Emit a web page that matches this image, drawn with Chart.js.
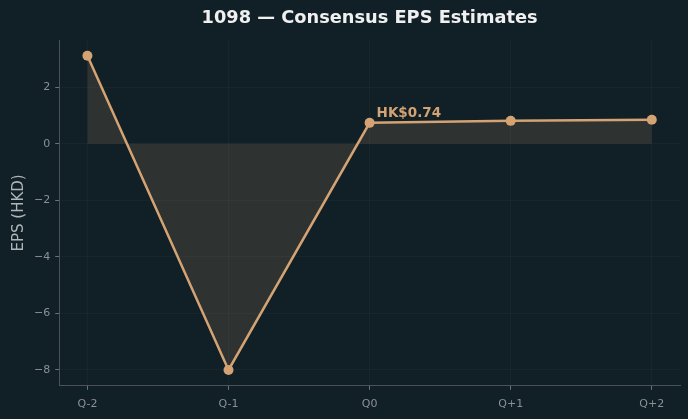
<!DOCTYPE html>
<html>
<head>
<meta charset="utf-8">
<script src="https://cdn.jsdelivr.net/npm/chart.js@4/dist/chart.umd.min.js"></script>
<style>
	html, body { margin: 0; padding: 0; background: #111f26; }
	#wrap { width: 688px; height: 419px; }
</style>
</head>
<body>
<div id="wrap"><canvas id="myChart" width="688" height="419"></canvas></div>
<script>
"use strict";

// quarters and EPS estimates (HKD)
const quarters = ["Q-2", "Q-1", "Q0", "Q+1", "Q+2"];
const epsValues = [3.11, -8.0, 0.74, 0.81, 0.85];
const yTicks = [-8, -6, -4, -2, 0, 2];
const highlightIndex = 2;
const highlightLabel = "HK$0.74";
const chartTitle = "1098 — Consensus EPS Estimates";

const lineColor = "#d4a373";
const font = "'DejaVu Sans', sans-serif";

// title centred over the plot area, plus the value label above the current quarter
const labelPlugin = {
	id: "labelPlugin",
	afterDatasetsDraw(chart) {
		const ctx = chart.ctx;
		const area = chart.chartArea;
		const x = chart.scales.x.getPixelForValue(highlightIndex);
		const y = chart.scales.y.getPixelForValue(epsValues[highlightIndex]);
		ctx.save();
		ctx.font = "bold 13.5px " + font;
		ctx.fillStyle = lineColor;
		ctx.textAlign = "left";
		ctx.textBaseline = "alphabetic";
		ctx.fillText(highlightLabel, x + 7, y - 6);

		ctx.font = "bold 17.8px " + font;
		ctx.fillStyle = "#f0f0f0";
		ctx.textAlign = "center";
		ctx.textBaseline = "middle";
		ctx.fillText(chartTitle, (area.left + area.right) / 2, 18);
		ctx.restore();
	}
};

const points = epsValues.map(function (v, i) {
	return { x: i, y: v };
});

new Chart(document.getElementById("myChart"), {
	type: "line",
	data: {
		datasets: [
			{
				data: points,
				borderColor: lineColor,
				backgroundColor: "rgba(212,163,115,0.15)",
				borderWidth: 2.5,
				fill: "origin",
				tension: 0,
				pointRadius: 5,
				pointBackgroundColor: lineColor,
				pointBorderColor: lineColor,
				pointBorderWidth: 0
			}
		]
	},
	options: {
		responsive: false,
		animation: false,
		layout: { padding: { left: 10, right: 8, top: 40, bottom: 0 } },
		plugins: {
			legend: { display: false },
			tooltip: { enabled: false },
			title: { display: false }
		},
		scales: {
			x: {
				type: "linear",
				min: -0.2,
				max: 4.2,
				afterBuildTicks(axis) {
					axis.ticks = quarters.map(function (q, i) { return { value: i }; });
				},
				ticks: {
					color: "#8a9196",
					font: { family: font, size: 11 },
					padding: 8,
					maxRotation: 0,
					callback: function (v) { return quarters[v]; }
				},
				grid: {
					color: "rgba(255,255,255,0.03)",
					tickColor: "#6b7275",
					tickLength: 4
				},
				border: { color: "#4a5256", width: 1 }
			},
			y: {
				min: -8.56,
				max: 3.67,
				afterBuildTicks(axis) {
					axis.ticks = yTicks.map(function (v) { return { value: v }; });
				},
				ticks: {
					color: "#8a9196",
					font: { family: font, size: 11 },
					padding: 5,
					callback: function (v) { return String(v).replace("-", "\u2212"); }
				},
				grid: {
					color: "rgba(255,255,255,0.03)",
					tickColor: "#6b7275",
					tickLength: 4
				},
				border: { color: "#4a5256", width: 1 },
				title: {
					display: true,
					text: "EPS (HKD)",
					color: "#b0b5b8",
					font: { family: font, size: 15 },
					padding: { top: 0, bottom: 1 }
				}
			}
		}
	},
	plugins: [labelPlugin]
});
</script>
</body>
</html>
